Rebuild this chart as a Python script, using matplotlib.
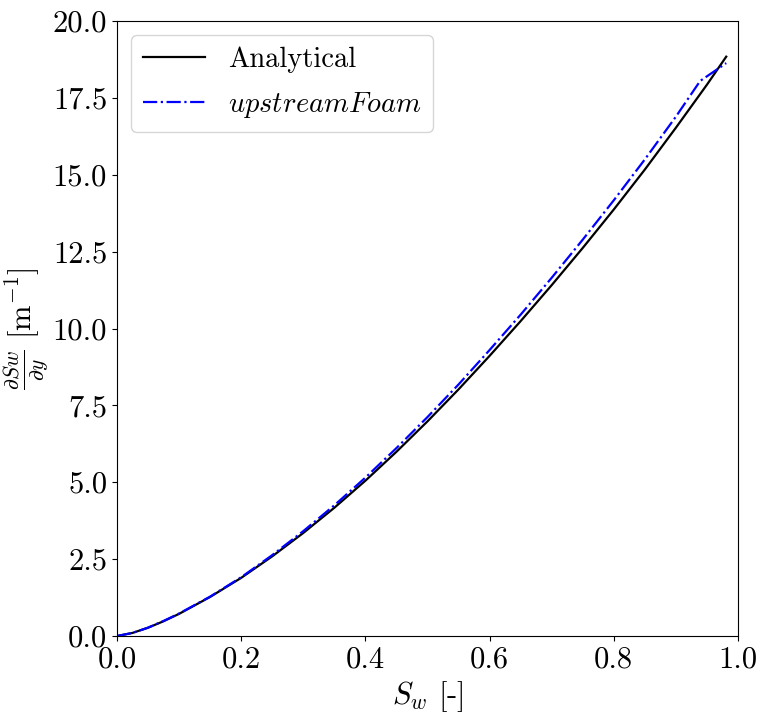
import matplotlib
matplotlib.use("Agg")
import matplotlib.pyplot as plt

plt.rcParams["font.family"] = "serif"
plt.rcParams["font.serif"] = ["cmr10", "DejaVu Serif"]
plt.rcParams["mathtext.fontset"] = "cm"
plt.rcParams["axes.formatter.use_mathtext"] = True
plt.rcParams["axes.unicode_minus"] = False

# Analytical solution
sw_analytical = [0.0, 0.025, 0.05, 0.075, 0.1, 0.15, 0.2, 0.25, 0.3, 0.35, 0.4, 0.45, 0.5,
                 0.55, 0.6, 0.65, 0.7, 0.75, 0.8, 0.85, 0.9, 0.95, 0.981]
grad_analytical = [0.0, 0.1, 0.27, 0.48, 0.72, 1.27, 1.89, 2.59, 3.35, 4.17, 5.05, 5.99, 6.98,
                   8.02, 9.11, 10.24, 11.41, 12.62, 13.87, 15.17, 16.53, 17.93, 18.84]

# upstreamFoam result
sw_foam = [0.0, 0.025, 0.05, 0.075, 0.1, 0.15, 0.2, 0.25, 0.3, 0.35, 0.4, 0.45, 0.5,
           0.55, 0.6, 0.65, 0.7, 0.75, 0.8, 0.85, 0.9, 0.939, 0.981]
grad_foam = [0.0, 0.1, 0.27, 0.49, 0.73, 1.28, 1.91, 2.63, 3.41, 4.25, 5.15, 6.11, 7.12,
             8.18, 9.3, 10.45, 11.65, 12.89, 14.17, 15.5, 16.89, 18.05, 18.63]

fig = plt.figure(figsize=(7.64, 7.19), dpi=100)
ax = fig.add_axes([0.153, 0.1154, 0.813, 0.8554])

ax.plot(sw_analytical, grad_analytical, color="black", linestyle="-", linewidth=1.6, label="Analytical")
ax.plot(sw_foam, grad_foam, color="blue", linestyle="-.", linewidth=1.6, label=r"$upstreamFoam$")

ax.set_xlim(0, 1)
ax.set_ylim(0, 20)
ax.set_xticks([0.0, 0.2, 0.4, 0.6, 0.8, 1.0])
ax.set_yticks([0.0, 2.5, 5.0, 7.5, 10.0, 12.5, 15.0, 17.5, 20.0])
ax.set_xticklabels(["0.0", "0.2", "0.4", "0.6", "0.8", "1.0"])
ax.set_yticklabels(["0.0", "2.5", "5.0", "7.5", "10.0", "12.5", "15.0", "17.5", "20.0"])
ax.tick_params(labelsize=22)

ax.set_xlabel(r"$S_w$ [-]", fontsize=22)
ax.set_ylabel(r"$\frac{\partial Sw}{\partial y}\ [\mathrm{m}^{-1}]$", fontsize=22, labelpad=2)

ax.legend(loc="upper left", fontsize=20.5, handlelength=2.2, labelspacing=0.6)

fig.savefig("out.png", dpi=100)
